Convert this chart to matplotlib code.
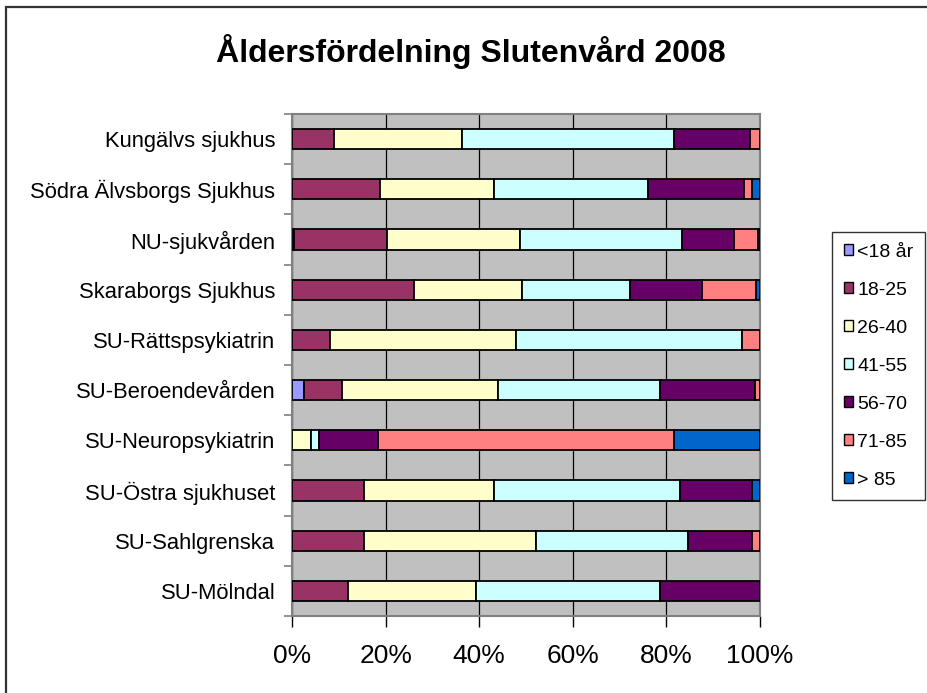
import numpy as np
import matplotlib
matplotlib.use("Agg")
import matplotlib.pyplot as plt
from matplotlib.patches import Rectangle

plt.rcParams["font.family"] = ["Liberation Sans", "DejaVu Sans"]

kliniker = [
    "Kungälvs sjukhus",
    "Södra Älvsborgs Sjukhus",
    "NU-sjukvården",
    "Skaraborgs Sjukhus",
    "SU-Rättspsykiatrin",
    "SU-Beroendevården",
    "SU-Neuropsykiatrin",
    "SU-Östra sjukhuset",
    "SU-Sahlgrenska",
    "SU-Mölndal",
]

grupper = ["<18 år", "18-25", "26-40", "41-55", "56-70", "71-85", "> 85"]

# andel (%) per aldersgrupp, samma ordning som kliniker
under_18 = [0, 0, 0.4, 0, 0, 2.5, 0, 0, 0, 0]
ar_18_25 = [8.9, 18.7, 20.0, 26.0, 8.1, 8.1, 0, 15.3, 15.4, 11.9]
ar_26_40 = [27.4, 24.4, 28.3, 23.1, 39.8, 33.4, 4.1, 27.9, 36.8, 27.4]
ar_41_55 = [45.3, 33.0, 34.6, 23.1, 48.3, 34.7, 1.7, 39.8, 32.4, 39.3]
ar_56_70 = [16.3, 20.5, 11.1, 15.5, 0, 20.2, 12.5, 15.3, 13.6, 21.3]
ar_71_85 = [2.1, 1.6, 5.1, 11.5, 3.8, 1.1, 63.3, 0, 1.8, 0]
over_85 = [0, 1.8, 0.5, 0.8, 0, 0, 18.4, 1.7, 0, 0]

farger = ["#9999FF", "#993366", "#FFFFCC", "#CCFFFF", "#660066", "#FF8080", "#0066CC"]

serier = np.array([under_18, ar_18_25, ar_26_40, ar_41_55, ar_56_70, ar_71_85, over_85], dtype=float)
serier = serier / serier.sum(axis=0) * 100

fig = plt.figure(figsize=(9.27, 6.93), dpi=100)
ax = fig.add_axes([0.315, 0.1111, 0.5049, 0.7244])
ax.set_facecolor("#C0C0C0")

y = np.arange(len(kliniker))
vanster = np.zeros(len(kliniker))
for namn, varden, farg in zip(grupper, serier, farger):
    ax.barh(y, varden, left=vanster, height=0.4, color=farg,
            edgecolor="black", linewidth=1.3, label=namn, zorder=3)
    vanster += varden

ax.set_xlim(0, 100)
ax.set_ylim(len(kliniker) - 0.5, -0.5)
ax.set_xticks([0, 20, 40, 60, 80, 100])
ax.set_xticklabels(["0%", "20%", "40%", "60%", "80%", "100%"], fontsize=19)
ax.xaxis.grid(True, color="black", linewidth=0.9, zorder=1)
ax.set_axisbelow(True)

ax.set_yticks(y)
ax.set_yticklabels(kliniker, fontsize=15.8)
ax.set_yticks(np.arange(len(kliniker) + 1) - 0.5, minor=True)
ax.tick_params(axis="y", which="major", length=0, pad=12)
ax.tick_params(axis="y", which="minor", length=6, color="#808080", width=1.2)
ax.tick_params(axis="x", length=8, width=1.0, pad=12)

for side in ["top", "right", "left", "bottom"]:
    ax.spines[side].set_color("#808080")
    ax.spines[side].set_linewidth(1.5)

fig.text(0.508, 0.925, "Åldersfördelning Slutenvård 2008", ha="center", va="center",
         fontsize=23, fontweight="bold")

leg = fig.legend(loc="upper left", bbox_to_anchor=(832 / 927, 1 - 232 / 693),
                 fontsize=14, frameon=True, fancybox=False, borderaxespad=0,
                 handlelength=0.5, handleheight=0.5, handletextpad=0.2,
                 labelspacing=1.08, borderpad=0.6)
leg.get_frame().set_edgecolor("black")
leg.get_frame().set_linewidth(1.0)
for h in leg.legend_handles:
    h.set_linewidth(1.0)

fig.patches.append(Rectangle((6 / 927, -0.5), 2, 1.5 - 7 / 693, transform=fig.transFigure,
                             fill=False, edgecolor="#333333", linewidth=1.6))

fig.savefig("out.png", dpi=100)
